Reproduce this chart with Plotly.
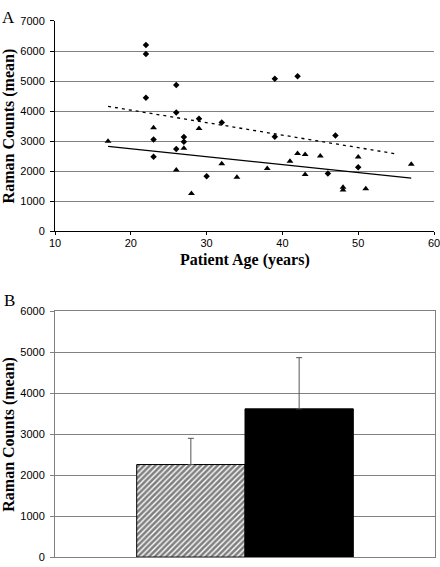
import plotly.graph_objects as go

# --- Panel A data ---
diamond_age = [22, 22, 22, 26, 26, 29, 32, 23, 27, 27, 39, 42, 39, 47, 23, 26, 30, 46, 50]
diamond_val = [6200, 5900, 4450, 4870, 3960, 3750, 3625, 3060, 3140, 2980, 5080, 5160, 3150, 3190, 2480, 2745, 1835, 1925, 2135]
tri_age = [17, 23, 29, 27, 26, 28, 32, 34, 38, 41, 42, 43, 43, 45, 50, 48, 48, 51, 57]
tri_val = [3000, 3445, 3425, 2765, 2045, 1260, 2255, 1800, 2095, 2335, 2595, 2560, 1890, 2505, 2475, 1470, 1380, 1420, 2235]
trend_dash_age = [17, 55]
trend_dash_val = [4160, 2580]
trend_solid_age = [17, 57]
trend_solid_val = [2830, 1770]

# --- Panel B data ---
bar_cats = ["group"]
bar_hatched = [2260]
bar_hatched_err = [640]
bar_black = [3620]
bar_black_err = [1250]

fig = go.Figure()

fig.add_trace(go.Scatter(x=trend_dash_age, y=trend_dash_val, mode="lines",
                         line=dict(color="black", width=1.3, dash="3px,4px"),
                         xaxis="x", yaxis="y", showlegend=False, hoverinfo="skip"))
fig.add_trace(go.Scatter(x=trend_solid_age, y=trend_solid_val, mode="lines",
                         line=dict(color="black", width=1.3),
                         xaxis="x", yaxis="y", showlegend=False, hoverinfo="skip"))
fig.add_trace(go.Scatter(x=diamond_age, y=diamond_val, mode="markers",
                         marker=dict(symbol="diamond", size=5, color="black"),
                         xaxis="x", yaxis="y", showlegend=False))
fig.add_trace(go.Scatter(x=tri_age, y=tri_val, mode="markers",
                         marker=dict(symbol="triangle-up", size=6, color="black"),
                         xaxis="x", yaxis="y", showlegend=False))

fig.add_trace(go.Bar(x=bar_cats, y=bar_hatched, xaxis="x2", yaxis="y2",
                     marker=dict(color="white", line=dict(color="black", width=1),
                                 pattern=dict(shape="/", fgcolor="black", bgcolor="white",
                                              size=4, solidity=0.65)),
                     error_y=dict(type="data", array=bar_hatched_err, arrayminus=[0] * len(bar_hatched_err),
                                  symmetric=False, color="#555555", thickness=1, width=3),
                     showlegend=False))
fig.add_trace(go.Bar(x=bar_cats, y=bar_black, xaxis="x2", yaxis="y2",
                     marker=dict(color="black", line=dict(color="black", width=1)),
                     error_y=dict(type="data", array=bar_black_err, arrayminus=[0] * len(bar_black_err),
                                  symmetric=False, color="#555555", thickness=1, width=3),
                     showlegend=False))

tickfont = dict(family="Liberation Sans, Arial, sans-serif", size=11, color="black")
titlefont = dict(family="Liberation Serif, Times New Roman, serif", size=16, color="black")

topA = 1 - 230.3 / 567
topB = 1 - 15.3 / 567
botA = 1 - 563 / 567
botB = 1 - 312 / 567

fig.update_layout(
    width=440, height=567,
    margin=dict(l=0, r=0, t=0, b=0),
    paper_bgcolor="white", plot_bgcolor="white",
    barmode="group", bargap=0.43, bargroupgap=0,
    xaxis=dict(domain=[55 / 440, 434 / 440], range=[10, 60], dtick=10, tick0=10,
               showline=True, linecolor="black", linewidth=1, ticks="outside", ticklen=3,
               tickcolor="black", showgrid=False, zeroline=False, tickfont=tickfont,
               ticklabelstandoff=-2, ticklabeloverflow="allow", automargin=False, anchor="y"),
    yaxis=dict(domain=[topA, topB], range=[0, 7000], dtick=1000, tick0=0,
               showline=True, linecolor="black", linewidth=1, ticks="outside", ticklen=4,
               tickcolor="black", showgrid=True, gridcolor="#808080", gridwidth=1,
               zeroline=False, tickfont=tickfont, ticklabelstandoff=3, anchor="x"),
    xaxis2=dict(domain=[55 / 440, 435 / 440], showline=True, linecolor="#808080", mirror=True,
                showticklabels=False, ticks="", showgrid=False, zeroline=False, anchor="y2"),
    yaxis2=dict(domain=[botA, botB], range=[0, 6000], dtick=1000, tick0=0,
                showline=True, linecolor="#808080", mirror=True, linewidth=1,
                ticks="outside", ticklen=4, tickcolor="#808080",
                showgrid=True, gridcolor="#808080", gridwidth=1,
                zeroline=False, tickfont=tickfont, ticklabelstandoff=3, anchor="x2"),
    annotations=[
        dict(text="A", x=0.0, y=1.0, xref="paper", yref="paper", xanchor="left", yanchor="top",
             showarrow=False, font=dict(family="Liberation Serif, serif", size=17, color="black")),
        dict(text="B", x=2 / 440, y=1 - 289 / 567, xref="paper", yref="paper", xanchor="left", yanchor="top",
             showarrow=False, font=dict(family="Liberation Serif, serif", size=17, color="black")),
        dict(text="<b>Patient Age (years)</b>", x=(55 + 434) / 2 / 440, y=1 - 260 / 567,
             xref="paper", yref="paper", xanchor="center", yanchor="middle",
             showarrow=False, font=titlefont),
        dict(text="<b>Raman Counts (mean)</b>", x=9 / 440, y=1 - 123 / 567, textangle=-90,
             xref="paper", yref="paper", xanchor="center", yanchor="middle",
             showarrow=False, font=titlefont),
        dict(text="<b>Raman Counts (mean)</b>", x=9 / 440, y=1 - 438 / 567, textangle=-90,
             xref="paper", yref="paper", xanchor="center", yanchor="middle",
             showarrow=False, font=titlefont),
    ],
)

fig.write_html("out.html", config={"displayModeBar": False},
               post_script="document.body.style.margin='0';document.body.style.overflow='hidden';")
